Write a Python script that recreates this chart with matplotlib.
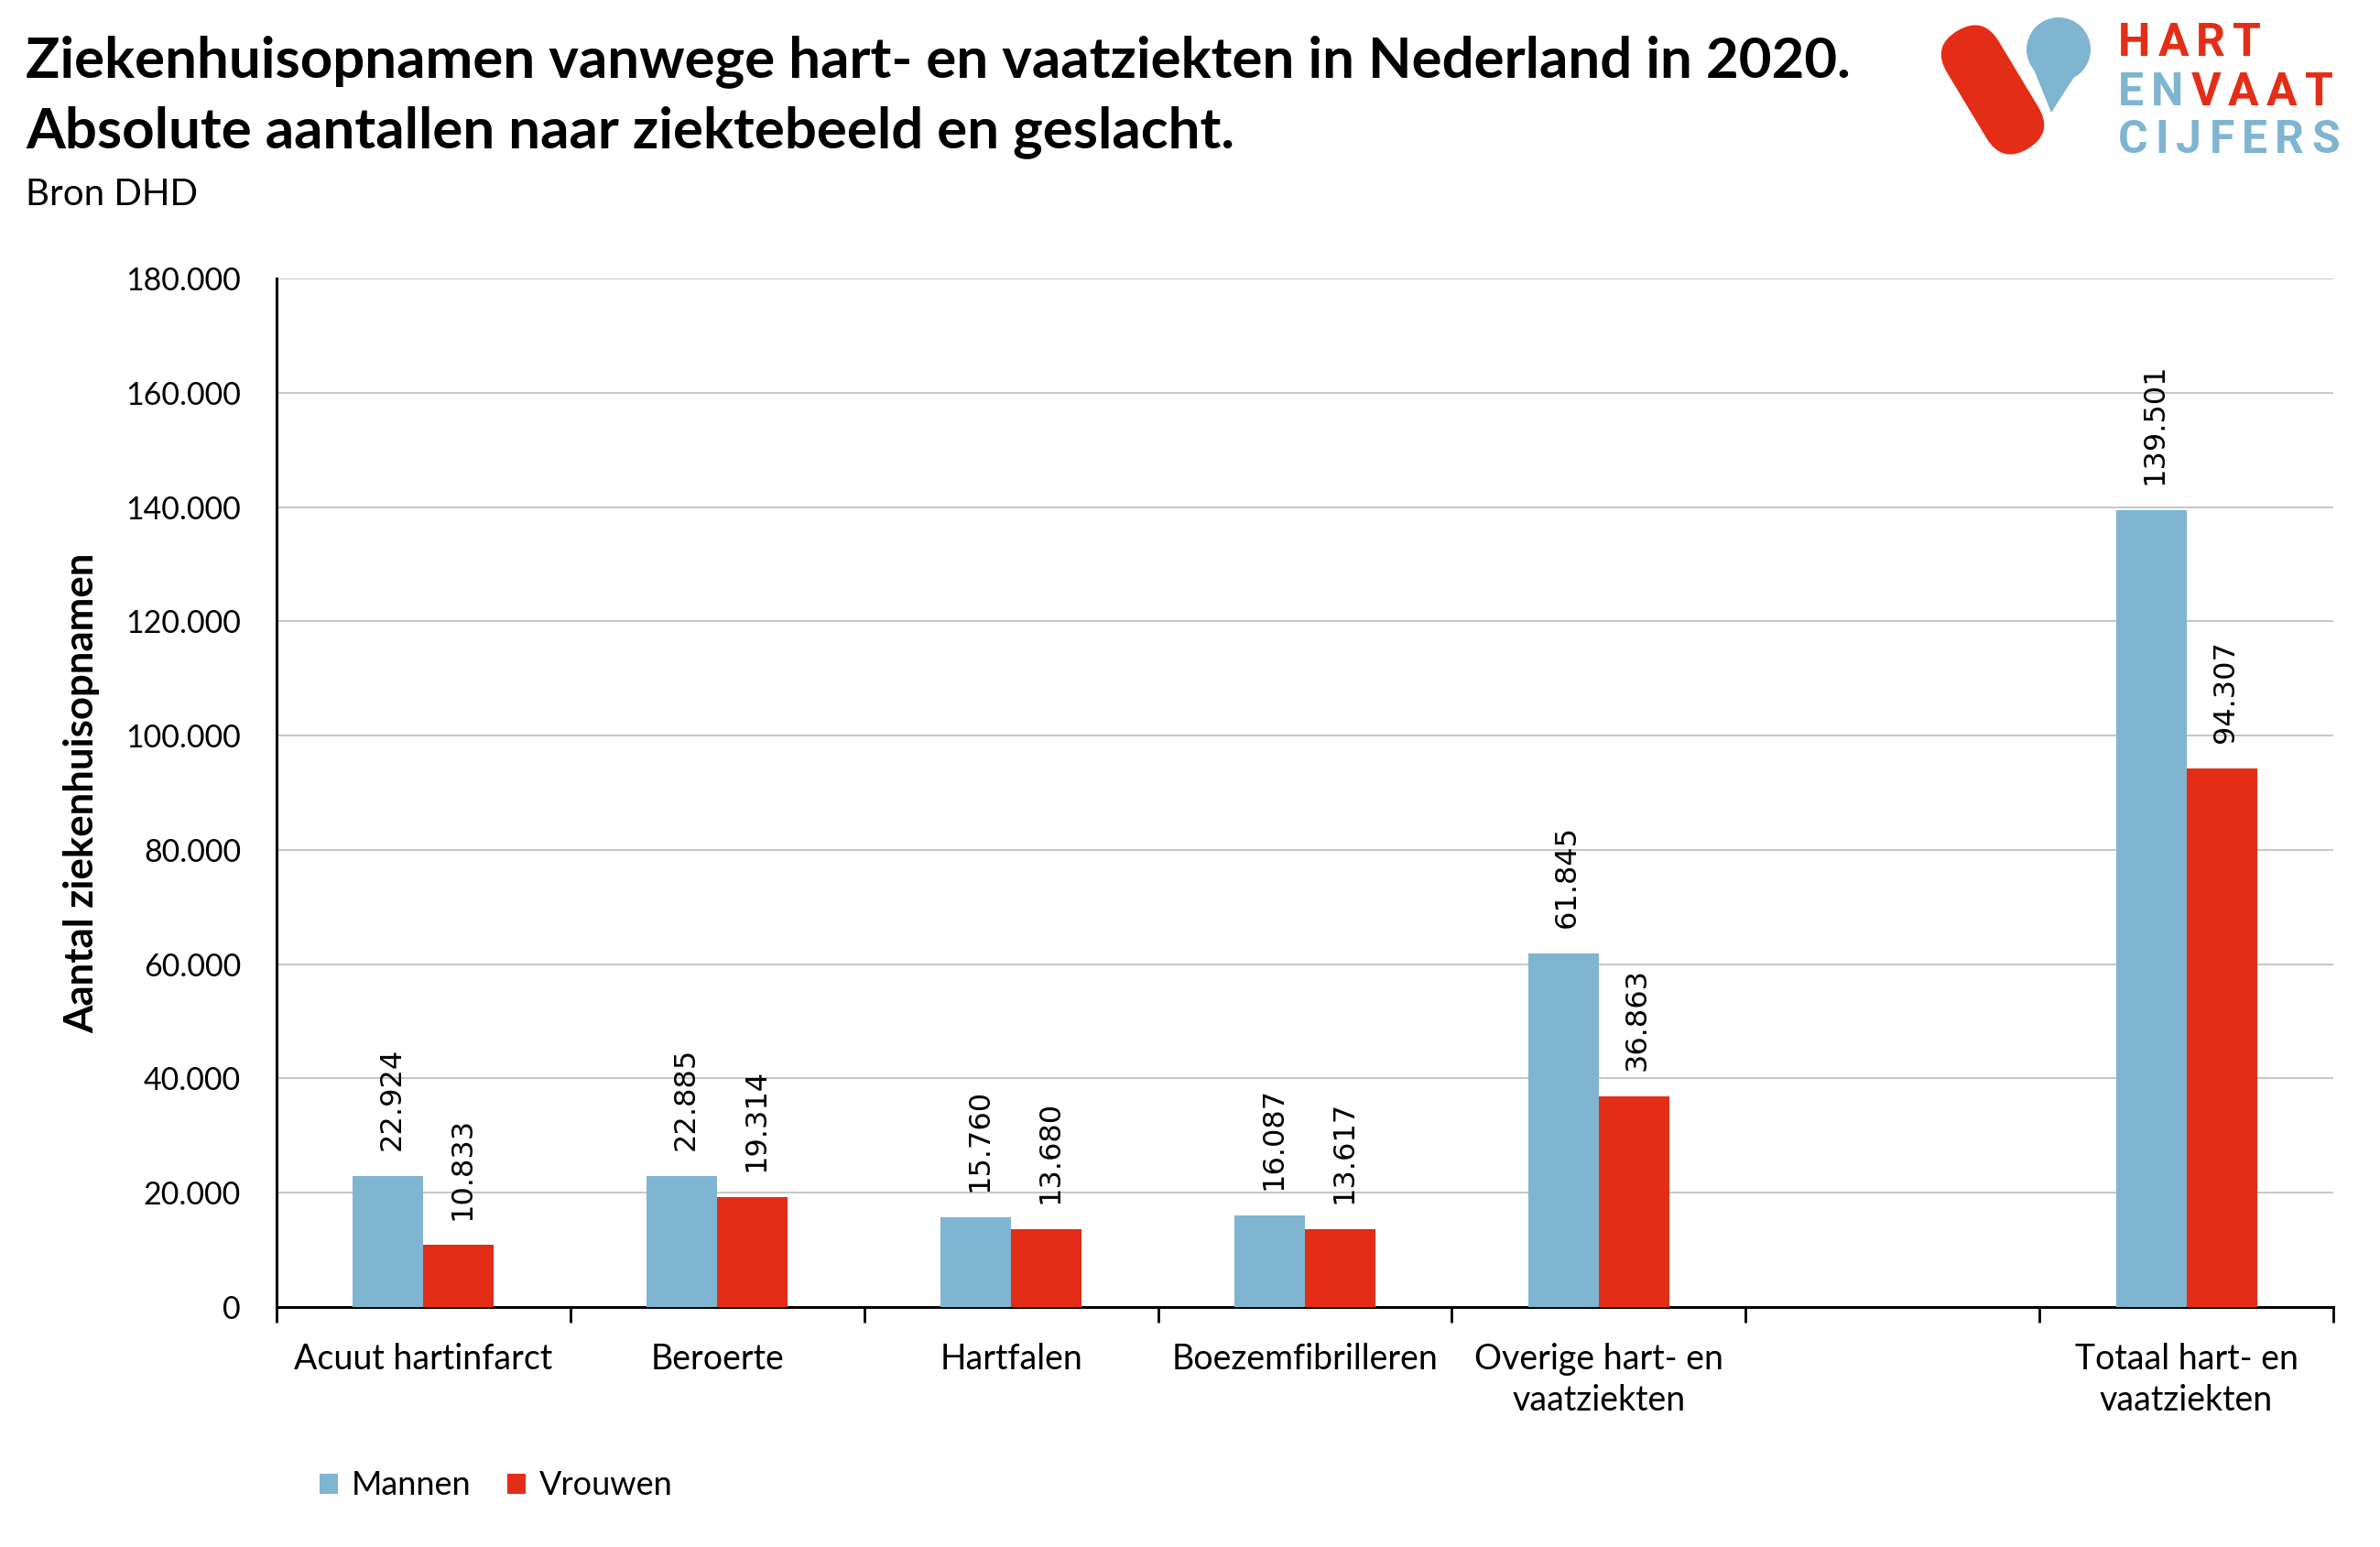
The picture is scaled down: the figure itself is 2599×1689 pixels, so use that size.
import numpy as np
import matplotlib
matplotlib.use("Agg")
import matplotlib.pyplot as plt
from matplotlib.patches import FancyBboxPatch, Circle, Polygon
from matplotlib.transforms import Affine2D

categories = ["Acuut hartinfarct", "Beroerte", "Hartfalen", "Boezemfibrilleren",
              "Overige hart- en\nvaatziekten", "", "Totaal hart- en\nvaatziekten"]
mannen = [22924, 22885, 15760, 16087, 61845, np.nan, 139501]
vrouwen = [10833, 19314, 13680, 13617, 36863, np.nan, 94307]
yticks = [0, 20000, 40000, 60000, 80000, 100000, 120000, 140000, 160000, 180000]

BLUE = "#7FB5D1"
RED = "#E42D17"
FONT = "Lato"

W, H = 2599, 1689
fig = plt.figure(figsize=(W / 100, H / 100), dpi=100)
fig.patch.set_facecolor("white")


def fmt(v):
    return f"{int(v):,}".replace(",", ".")


# main axes, placed in pixel terms
x0, x1, ytop, ybot = 302, 2548, 304, 1427
ax = fig.add_axes([x0 / W, (H - ybot) / H, (x1 - x0) / W, (ybot - ytop) / H])

x = np.arange(len(categories))
bw = 0.24
b1 = ax.bar(x - bw / 2, mannen, bw, color=BLUE, label="Mannen", zorder=3)
b2 = ax.bar(x + bw / 2, vrouwen, bw, color=RED, label="Vrouwen", zorder=3)

for bars, vals in ((b1, mannen), (b2, vrouwen)):
    for rect, v in zip(bars, vals):
        if np.isnan(v):
            continue
        ax.annotate(fmt(v), (rect.get_x() + rect.get_width() / 2, v),
                    xytext=(3, 20), textcoords="offset points",
                    rotation=90, ha="center", va="bottom",
                    fontsize=23, family="DejaVu Sans", color="black")

ax.set_xlim(-0.5, len(categories) - 0.5)
ax.set_ylim(0, 180000)
ax.set_yticks(yticks)
ax.set_yticklabels([fmt(v) for v in yticks], family=FONT, fontsize=24.5)
ax.tick_params(axis="y", length=0, pad=28)
ax.yaxis.grid(True, color="#C8C8C8", lw=1.5, zorder=0)
ax.set_axisbelow(True)

# boundaries get tick marks, centres get labels
ax.set_xticks(np.arange(len(categories) + 1) - 0.5)
ax.set_xticklabels([])
ax.set_xticks(x, minor=True)
ax.set_xticklabels(categories, minor=True, family=FONT, fontsize=27, linespacing=1.32)
ax.tick_params(axis="x", which="major", length=12, width=2, direction="out", color="black")
ax.tick_params(axis="x", which="minor", length=0, pad=28)

for s in ("top", "right"):
    ax.spines[s].set_visible(False)
for s in ("left", "bottom"):
    ax.spines[s].set_linewidth(2.2)
    ax.spines[s].set_color("black")

ax.set_ylabel("Aantal ziekenhuisopnamen", family=FONT, fontweight="bold", fontsize=31.5, labelpad=20)

leg = ax.legend(loc="center left", bbox_to_anchor=(335 / W, (H - 1622) / H),
                bbox_transform=fig.transFigure, ncol=2, frameon=False,
                prop={"family": FONT, "size": 26}, handlelength=0.55, handleheight=0.55,
                handletextpad=0.4, columnspacing=1.1, borderaxespad=0)

# overlay for titles and logo, in pixel coordinates
ov = fig.add_axes([0, 0, 1, 1], zorder=10)
ov.set_xlim(0, W)
ov.set_ylim(H, 0)
ov.axis("off")
ov.patch.set_alpha(0)

ov.text(28, 84, "Ziekenhuisopnamen vanwege hart- en vaatziekten in Nederland in 2020.",
        family=FONT, fontweight="bold", fontsize=44.5, va="baseline")
ov.text(28, 161, "Absolute aantallen naar ziektebeeld en geslacht.",
        family=FONT, fontweight="bold", fontsize=44.5, va="baseline")
ov.text(28, 224, "Bron DHD", family=FONT, fontsize=29, va="baseline")

# logo: slanted pill + droplet
pill_len, pill_r = 150, 33
pill = FancyBboxPatch((-pill_len / 2, -pill_r), pill_len, 2 * pill_r,
                      boxstyle=f"round,pad=0,rounding_size={pill_r}",
                      fc=RED, ec="none")
ang = np.degrees(np.arctan2(140 - 52, 2203 - 2150))
pill.set_transform(Affine2D().rotate_deg(ang).translate(2176, 98) + ov.transData)
ov.add_patch(pill)

cx, cy, r = 2248, 54, 35
ov.add_patch(Circle((cx, cy), r, fc=BLUE, ec="none"))
tip = (2240, 123)
ov.add_patch(Polygon([(cx - r, cy + 2), (cx + r, cy + 2), tip], closed=True, fc=BLUE, ec="none"))

fig.canvas.draw()
rend = fig.canvas.get_renderer()


def spaced(xs, y, parts, size, gap):
    xx = xs
    for s, col in parts:
        for ch in s:
            t = ov.text(xx, y, ch, family="Roboto", fontweight="bold", fontsize=size,
                        color=col, va="baseline", ha="left")
            bb = t.get_window_extent(rend)
            xx += bb.width + gap


spaced(2313, 61, [("HART", RED)], 36, 8)
spaced(2313, 115, [("EN", BLUE), ("VAAT", RED)], 36, 8)
spaced(2313, 167, [("CIJFERS", BLUE)], 36, 8)

fig.savefig("out.png", dpi=100, facecolor="white")
